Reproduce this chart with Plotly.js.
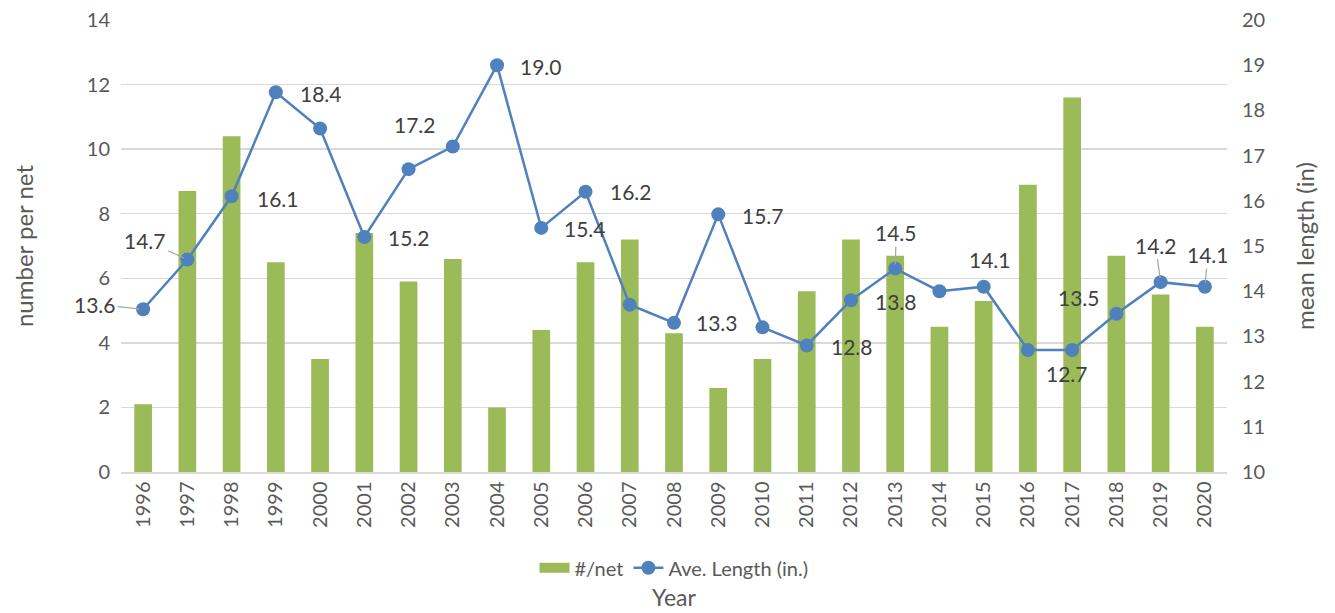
<!DOCTYPE html>
<html>
<head>
<meta charset="utf-8">
<script src="https://cdn.plot.ly/plotly-3.0.1.min.js"></script>
<style>html,body{margin:0;padding:0;background:#fff;}#chart{width:1335px;height:613px;}</style>
</head>
<body>
<div id="chart"></div>
<script>
const years = ['1996','1997','1998','1999','2000','2001','2002','2003','2004','2005','2006','2007','2008','2009','2010','2011','2012','2013','2014','2015','2016','2017','2018','2019','2020'];
const perNet = [2.1,8.7,10.4,6.5,3.5,7.4,5.9,6.6,2.0,4.4,6.5,7.2,4.3,2.6,3.5,5.6,7.2,6.7,4.5,5.3,8.9,11.6,6.7,5.5,4.5];
const aveLength = [13.6,14.7,16.1,18.4,17.6,15.2,16.7,17.2,19.0,15.4,16.2,13.7,13.3,15.7,13.2,12.8,13.8,14.5,14.0,14.1,12.7,12.7,13.5,14.2,14.1];
// which points carry a data label: [year, text offset x, offset y, leader line]
const labelled = [
  ['1996',-48,-5,true],['1997',-42,-19,true],['1998',46,2,false],['1999',45,1,false],
  ['2001',45,1,false],['2003',-38,-22,false],['2004',44,1,false],['2005',44,1,false],
  ['2006',45,0,false],['2008',43,0,false],['2009',45,1,false],['2011',45,1,false],
  ['2012',45,1,false],['2013',1,-36,true],['2015',6,-27,false],['2017',-5,24,false],
  ['2018',-37,-16,false],['2019',-5,-37,true],['2020',3,-32,true]
];

const FONT = 'Lato, "Open Sans", sans-serif';
const GREY = '#595959';

const traces = [
  {type:'bar', name:'#/net', x:years, y:perNet, marker:{color:'#9BBB59'}, width:0.4, yaxis:'y', hoverinfo:'skip', showlegend:false},
  {type:'scatter', mode:'lines', name:'#/net', x:[null], y:[null], yaxis:'y', line:{color:'#9BBB59', width:14}, hoverinfo:'skip', showlegend:true},
  {type:'scatter', mode:'lines+markers', name:'Ave. Length (in.)', x:years, y:aveLength, yaxis:'y2',
   line:{color:'#4F81BD', width:2.5}, marker:{color:'#4F81BD', size:14}, hoverinfo:'skip'}
];

const annotations = labelled.map(function(l){
  const i = years.indexOf(l[0]);
  const a = {x:i, y:aveLength[i], xref:'x', yref:'y2', text:aveLength[i].toFixed(1),
    font:{family:FONT, size:21, color:'#404040'}};
  if (l[3]) {
    Object.assign(a, {showarrow:true, arrowhead:0, arrowwidth:1.2, arrowcolor:'#a6a6a6', ax:l[1], ay:l[2], standoff:4, startstandoff:0});
  } else {
    Object.assign(a, {showarrow:false, xshift:l[1], yshift:-l[2]});
  }
  return a;
});

const layout = {
  width:1335, height:613,
  margin:{l:121, r:108, t:20, b:141},
  paper_bgcolor:'#fff', plot_bgcolor:'#fff',
  font:{family:FONT, size:20, color:GREY},
  showlegend:true,
  legend:{orientation:'h', x:0.5, xanchor:'center', y:-0.212, yanchor:'middle', font:{family:FONT, size:20, color:GREY}, traceorder:'normal'},
  bargap:0.6,
  xaxis:{type:'category', range:[-0.5, years.length-0.5], autorange:false, tickangle:-90, showgrid:false, showline:true, linecolor:'#d9d9d9', linewidth:1.5,
    ticks:'', tickfont:{family:FONT, size:20, color:GREY},
    title:{text:'Year', font:{family:FONT, size:23, color:GREY}, standoff:63}, automargin:false},
  yaxis:{range:[0,14], autorange:false, dtick:2, tick0:0, showgrid:true, gridcolor:'#d9d9d9', gridwidth:1.5, zeroline:false,
    ticks:'', ticklabelstandoff:10, tickfont:{family:FONT, size:20, color:GREY},
    title:{text:'number per net', font:{family:FONT, size:24, color:GREY}, standoff:46}, automargin:false},
  yaxis2:{range:[10,20], autorange:false, dtick:1, tick0:10, overlaying:'y', side:'right', showgrid:false, zeroline:false,
    ticks:'', ticklabelstandoff:14, tickfont:{family:FONT, size:20, color:GREY},
    title:{text:'mean length (in)', font:{family:FONT, size:24, color:GREY}, standoff:32}, automargin:false},
  annotations:annotations
};

Plotly.newPlot('chart', traces, layout, {displayModeBar:false, staticPlot:true});
</script>
</body>
</html>
